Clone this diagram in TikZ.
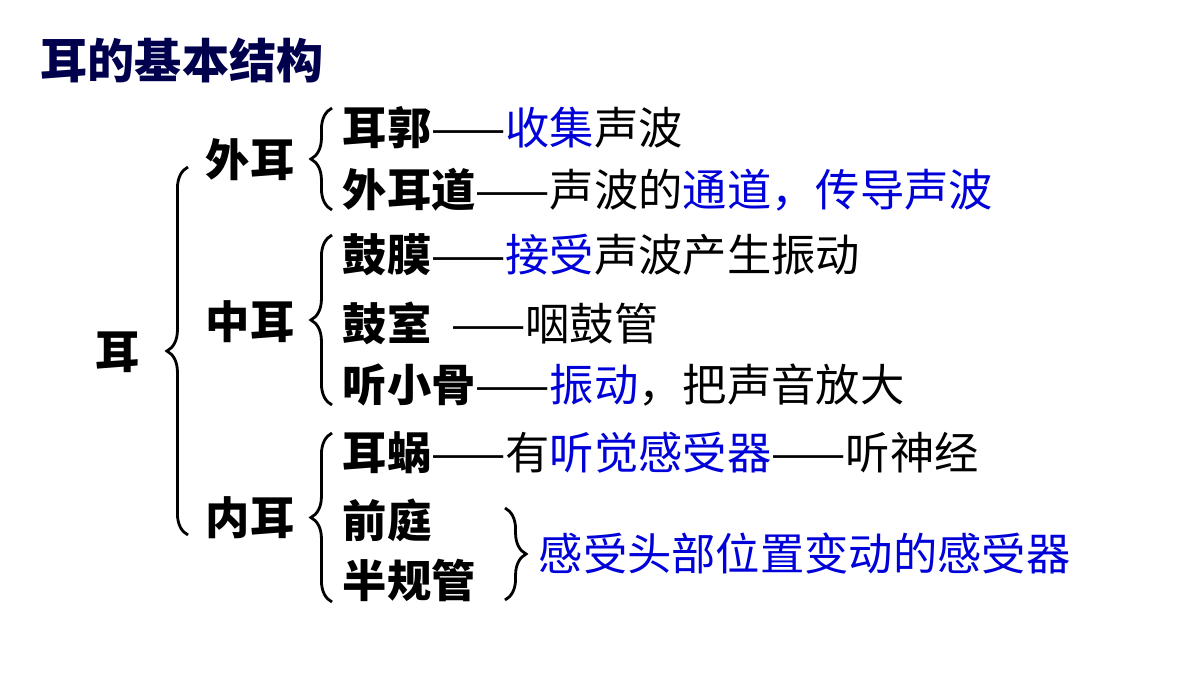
\documentclass[tikz,border=0pt]{standalone}
\usepackage{fontspec}
\newfontfamily\cjk{Noto Sans CJK SC}
\usepackage{xcolor}
\colorlet{colorTitle}{blue!30!black}
\colorlet{colorKey}{blue!85!black}
\usetikzlibrary{positioning, decorations.pathreplacing}
\tikzset{part/.style={anchor=west, inner sep=0pt, font=\cjk\fontsize{12.6}{14}\selectfont},
  brc/.style={decorate, decoration={brace, amplitude=6pt}, thick}}
\newcommand{\key}[1]{\textcolor{colorKey}{#1}}
\newcommand{\lbl}[1]{{\bfseries #1}}

\begin{document}
\begin{tikzpicture}[x=0.01cm, y=-0.01cm]
\useasboundingbox (0,0) rectangle (1200,675);
\node[part, font=\cjk\bfseries\fontsize{13.4}{15}\selectfont, text=colorTitle] (title) at (40,60) {耳的基本结构};
\node[part] (ear) at (95,352) {\lbl{耳}};
\node[part] (outer) at (205,160) {\lbl{外耳}};
\node[part] (middle) at (205,322) {\lbl{中耳}};
\node[part] (inner) at (205,518) {\lbl{内耳}};
\node[part] (r1) at (342,128) {\lbl{耳郭}——\key{收集}声波};
\node[part] (r2) at (342,190) {\lbl{外耳道}——声波的\key{通道，传导声波}};
\node[part] (r3) at (342,255) {\lbl{鼓膜}——\key{接受}声波产生振动};
\node[part] (r4) at (342,323) {\lbl{鼓室} \ ——咽鼓管};
\node[part] (r5) at (342,385) {\lbl{听小骨}——\key{振动}，把声音放大};
\node[part] (r6) at (342,453) {\lbl{耳蜗}——有\key{听觉感受器}——听神经};
\node[part] (r7) at (342,520) {\lbl{前庭}};
\node[part] (r8) at (342,580) {\lbl{半规管}};
\node[part] (sense) at (538,553) {\key{感受头部位置变动的感受器}};
% braces
\draw[brc] (188,535) -- (188,167);
\draw[brc] (332,210) -- (332,108);
\draw[brc] (332,405) -- (332,235);
\draw[brc] (332,602) -- (332,433);
\draw[brc] (505,508) -- (505,600);
\end{tikzpicture}
\end{document}
